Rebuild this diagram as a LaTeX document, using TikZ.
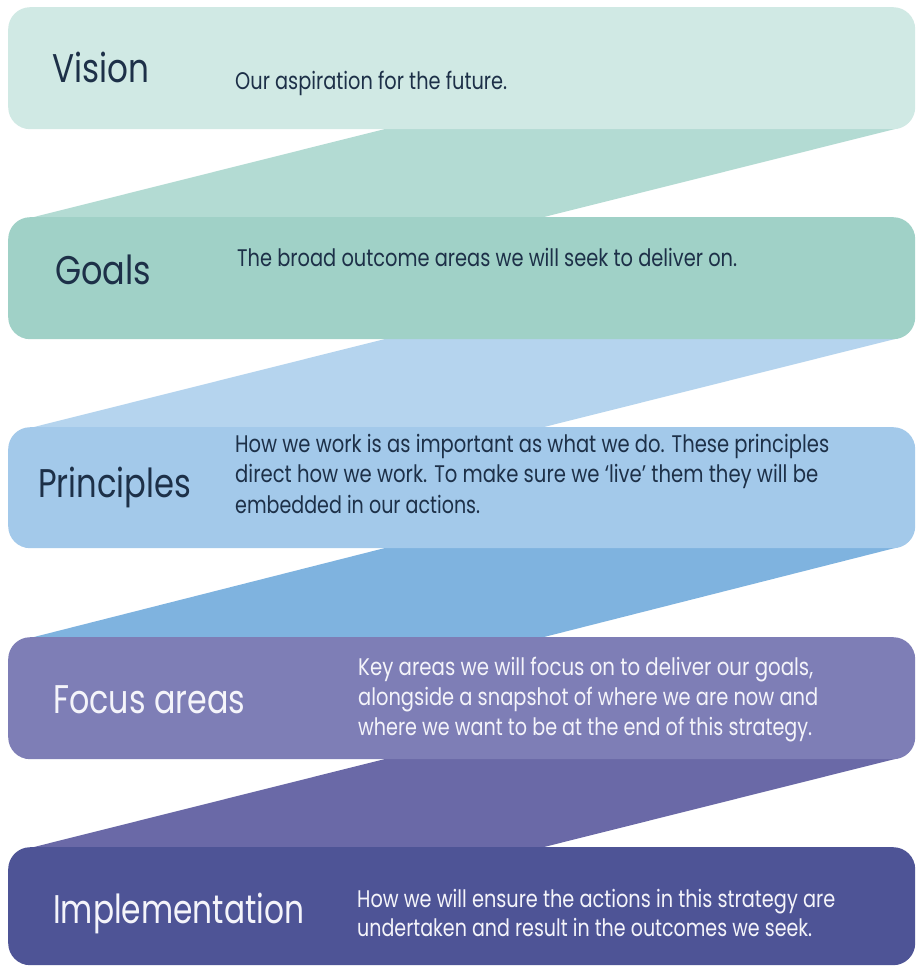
\documentclass[tikz,border=0pt]{standalone}
\usepackage{fontspec}
\usepackage{graphicx}
\setmainfont{Poppins}
\newfontfamily\headfont{Poppins}

% band and ribbon colours
\definecolor{bandA}{HTML}{D0E9E4}
\definecolor{linkA}{HTML}{B3DBD3}
\definecolor{bandB}{HTML}{A0D1C7}
\definecolor{linkB}{HTML}{B5D4EE}
\definecolor{bandC}{HTML}{A3C9EA}
\definecolor{linkC}{HTML}{7FB3DF}
\definecolor{bandD}{HTML}{7E7EB6}
\definecolor{linkD}{HTML}{6A69A7}
\definecolor{bandE}{HTML}{4E5496}
\definecolor{inkdark}{HTML}{1D3048}
\definecolor{inklight}{HTML}{F4F4FA}

% set a line to an exact width, keeping its natural height
\newcommand\fitline[2]{\resizebox{#1}{\height}{#2}}

\tikzset{
  band/.style={rounded corners=22pt, inner sep=0pt, anchor=north west,
               minimum width=907pt, minimum height=122pt},
  heading/.style={inner sep=0pt, anchor=base west,
                  font=\headfont\fontsize{40}{46}\selectfont},
  desc/.style={inner sep=0pt, anchor=base west,
               font=\fontsize{24}{28}\selectfont},
}

\begin{document}
\begin{tikzpicture}[x=1pt, y=-1pt]
  \useasboundingbox (0,0) rectangle (916,966);
  \fill[white] (0,0) rectangle (916,966);

  % slanted ribbons joining one band to the next
  \fill[linkA] (385,129) -- (895,129) -- (544,217) -- (34,217) -- cycle;
  \fill[linkB] (385,339) -- (895,339) -- (544,427) -- (34,427) -- cycle;
  \fill[linkC] (385,548) -- (895,548) -- (544,637) -- (34,637) -- cycle;
  \fill[linkD] (385,759) -- (895,759) -- (544,847) -- (34,847) -- cycle;

  % the five bands
  \node[band, fill=bandA] (vision)  at (8,7)   {};
  \node[band, fill=bandB] (goals)   at (8,217) {};
  \node[band, fill=bandC, minimum height=121pt] (princ) at (8,427) {};
  \node[band, fill=bandD] (focus)   at (8,637) {};
  \node[band, fill=bandE, minimum height=118pt] (impl) at (8,847) {};

  % Vision
  \node[heading, text=inkdark] (visionT) at (52,83) {\fitline{97pt}{Vision}};
  \node[desc, text=inkdark] (visionD) at (235,89)
    {\fitline{272pt}{Our aspiration for the future.}};

  % Goals
  \node[heading, text=inkdark] (goalsT) at (55,284) {\fitline{96pt}{Goals}};
  \node[desc, text=inkdark] (goalsD) at (237,266)
    {\fitline{500pt}{The broad outcome areas we will seek to deliver on.}};

  % Principles
  \node[heading, text=inkdark] (princT) at (38,497) {\fitline{153pt}{Principles}};
  \node[desc, text=inkdark] (princD1) at (235,452)
    {\fitline{594pt}{How we work is as important as what we do. These principles}};
  \node[desc, text=inkdark] (princD2) at (235,482)
    {\fitline{583pt}{direct how we work. To make sure we ‘live’ them they will be}};
  \node[desc, text=inkdark] (princD3) at (235,513)
    {\fitline{245pt}{embedded in our actions.}};

  % Focus areas
  \node[heading, text=inklight] (focusT) at (53,713) {\fitline{192pt}{Focus areas}};
  \node[desc, text=inklight] (focusD1) at (358,675)
    {\fitline{455pt}{Key areas we will focus on to deliver our goals,}};
  \node[desc, text=inklight] (focusD2) at (358,705)
    {\fitline{460pt}{alongside a snapshot of where we are now and}};
  \node[desc, text=inklight] (focusD3) at (358,735)
    {\fitline{454pt}{where we want to be at the end of this strategy.}};

  % Implementation
  \node[heading, text=inklight] (implT) at (53,923) {\fitline{251pt}{Implementation}};
  \node[desc, text=inklight] (implD1) at (357,907)
    {\fitline{478pt}{How we will ensure the actions in this strategy are}};
  \node[desc, text=inklight] (implD2) at (357,936)
    {\fitline{455pt}{undertaken and result in the outcomes we seek.}};
\end{tikzpicture}
\end{document}
